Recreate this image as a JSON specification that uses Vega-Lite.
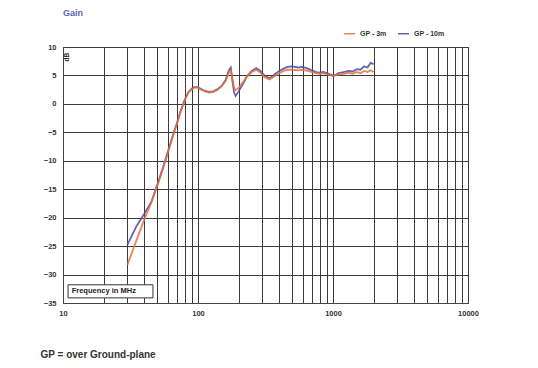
{
  "$schema": "https://vega.github.io/schema/vega-lite/v6.json",
  "width": 405,
  "height": 256,
  "autosize": "none",
  "padding": {"left": 63, "top": 47, "right": 70, "bottom": 65},
  "background": "white",
  "title": {"text": "Gain", "anchor": "start", "frame": "group", "fontSize": 9, "fontWeight": "bold", "color": "#5a64b0", "font": "Liberation Sans", "offset": 9},
  "config": {
    "view": {"stroke": "#444", "strokeWidth": 1},
    "axis": {"labelFont": "Liberation Sans", "labelFontSize": 7.5, "labelFontWeight": "bold", "labelColor": "#333", "gridColor": "#3a3a3a", "gridOpacity": 1, "gridWidth": 1, "domainColor": "#444", "tickColor": "#444", "labelOverlap": false}
  },
  "datasets": {
    "gain": [
      {"f": 30, "db": -24.8, "s": "GP - 10m"}, {"f": 35, "db": -21.5, "s": "GP - 10m"}, {"f": 40, "db": -19.3, "s": "GP - 10m"}, {"f": 45, "db": -17.3, "s": "GP - 10m"},
      {"f": 50, "db": -14.2, "s": "GP - 10m"}, {"f": 55, "db": -11.2, "s": "GP - 10m"}, {"f": 60, "db": -8.3, "s": "GP - 10m"}, {"f": 65, "db": -5.6, "s": "GP - 10m"},
      {"f": 70, "db": -3.3, "s": "GP - 10m"}, {"f": 75, "db": -1.0, "s": "GP - 10m"}, {"f": 80, "db": 0.8, "s": "GP - 10m"}, {"f": 85, "db": 2.1, "s": "GP - 10m"},
      {"f": 90, "db": 2.7, "s": "GP - 10m"}, {"f": 95, "db": 3.0, "s": "GP - 10m"}, {"f": 100, "db": 2.9, "s": "GP - 10m"}, {"f": 110, "db": 2.4, "s": "GP - 10m"},
      {"f": 120, "db": 2.1, "s": "GP - 10m"}, {"f": 130, "db": 2.2, "s": "GP - 10m"}, {"f": 140, "db": 2.6, "s": "GP - 10m"}, {"f": 150, "db": 3.2, "s": "GP - 10m"},
      {"f": 160, "db": 4.2, "s": "GP - 10m"}, {"f": 170, "db": 6.0, "s": "GP - 10m"}, {"f": 175, "db": 6.4, "s": "GP - 10m"}, {"f": 180, "db": 4.0, "s": "GP - 10m"},
      {"f": 185, "db": 2.0, "s": "GP - 10m"}, {"f": 190, "db": 1.4, "s": "GP - 10m"}, {"f": 200, "db": 2.2, "s": "GP - 10m"}, {"f": 215, "db": 3.5, "s": "GP - 10m"},
      {"f": 230, "db": 4.8, "s": "GP - 10m"}, {"f": 250, "db": 5.8, "s": "GP - 10m"}, {"f": 270, "db": 6.3, "s": "GP - 10m"}, {"f": 290, "db": 5.8, "s": "GP - 10m"},
      {"f": 310, "db": 5.0, "s": "GP - 10m"}, {"f": 340, "db": 4.5, "s": "GP - 10m"}, {"f": 370, "db": 5.2, "s": "GP - 10m"}, {"f": 400, "db": 5.8, "s": "GP - 10m"},
      {"f": 430, "db": 6.2, "s": "GP - 10m"}, {"f": 460, "db": 6.5, "s": "GP - 10m"}, {"f": 500, "db": 6.6, "s": "GP - 10m"}, {"f": 550, "db": 6.4, "s": "GP - 10m"},
      {"f": 600, "db": 6.5, "s": "GP - 10m"}, {"f": 650, "db": 6.2, "s": "GP - 10m"}, {"f": 700, "db": 5.9, "s": "GP - 10m"}, {"f": 750, "db": 5.6, "s": "GP - 10m"},
      {"f": 800, "db": 5.5, "s": "GP - 10m"}, {"f": 850, "db": 5.6, "s": "GP - 10m"}, {"f": 900, "db": 5.4, "s": "GP - 10m"}, {"f": 950, "db": 5.2, "s": "GP - 10m"},
      {"f": 1000, "db": 5.0, "s": "GP - 10m"}, {"f": 1050, "db": 5.1, "s": "GP - 10m"}, {"f": 1100, "db": 5.4, "s": "GP - 10m"}, {"f": 1200, "db": 5.6, "s": "GP - 10m"},
      {"f": 1300, "db": 5.8, "s": "GP - 10m"}, {"f": 1400, "db": 5.7, "s": "GP - 10m"}, {"f": 1500, "db": 6.1, "s": "GP - 10m"}, {"f": 1600, "db": 6.0, "s": "GP - 10m"},
      {"f": 1700, "db": 6.6, "s": "GP - 10m"}, {"f": 1800, "db": 6.4, "s": "GP - 10m"}, {"f": 1900, "db": 7.2, "s": "GP - 10m"}, {"f": 2000, "db": 7.0, "s": "GP - 10m"},
      {"f": 30, "db": -28.3, "s": "GP - 3m"}, {"f": 35, "db": -24.0, "s": "GP - 3m"}, {"f": 40, "db": -20.3, "s": "GP - 3m"}, {"f": 45, "db": -17.4, "s": "GP - 3m"},
      {"f": 50, "db": -14.4, "s": "GP - 3m"}, {"f": 55, "db": -11.4, "s": "GP - 3m"}, {"f": 60, "db": -8.5, "s": "GP - 3m"}, {"f": 65, "db": -5.8, "s": "GP - 3m"},
      {"f": 70, "db": -3.4, "s": "GP - 3m"}, {"f": 75, "db": -1.1, "s": "GP - 3m"}, {"f": 80, "db": 0.7, "s": "GP - 3m"}, {"f": 85, "db": 2.0, "s": "GP - 3m"},
      {"f": 90, "db": 2.6, "s": "GP - 3m"}, {"f": 95, "db": 2.9, "s": "GP - 3m"}, {"f": 100, "db": 2.8, "s": "GP - 3m"}, {"f": 110, "db": 2.3, "s": "GP - 3m"},
      {"f": 120, "db": 2.0, "s": "GP - 3m"}, {"f": 130, "db": 2.1, "s": "GP - 3m"}, {"f": 140, "db": 2.5, "s": "GP - 3m"}, {"f": 150, "db": 3.1, "s": "GP - 3m"},
      {"f": 160, "db": 4.0, "s": "GP - 3m"}, {"f": 170, "db": 5.6, "s": "GP - 3m"}, {"f": 175, "db": 5.9, "s": "GP - 3m"}, {"f": 180, "db": 4.4, "s": "GP - 3m"},
      {"f": 185, "db": 2.9, "s": "GP - 3m"}, {"f": 190, "db": 2.4, "s": "GP - 3m"}, {"f": 200, "db": 2.8, "s": "GP - 3m"}, {"f": 215, "db": 3.8, "s": "GP - 3m"},
      {"f": 230, "db": 4.8, "s": "GP - 3m"}, {"f": 250, "db": 5.6, "s": "GP - 3m"}, {"f": 270, "db": 6.0, "s": "GP - 3m"}, {"f": 290, "db": 5.5, "s": "GP - 3m"},
      {"f": 310, "db": 4.7, "s": "GP - 3m"}, {"f": 340, "db": 4.3, "s": "GP - 3m"}, {"f": 370, "db": 4.9, "s": "GP - 3m"}, {"f": 400, "db": 5.4, "s": "GP - 3m"},
      {"f": 430, "db": 5.8, "s": "GP - 3m"}, {"f": 460, "db": 6.0, "s": "GP - 3m"}, {"f": 500, "db": 6.0, "s": "GP - 3m"}, {"f": 550, "db": 5.9, "s": "GP - 3m"},
      {"f": 600, "db": 6.0, "s": "GP - 3m"}, {"f": 650, "db": 5.8, "s": "GP - 3m"}, {"f": 700, "db": 5.6, "s": "GP - 3m"}, {"f": 750, "db": 5.4, "s": "GP - 3m"},
      {"f": 800, "db": 5.3, "s": "GP - 3m"}, {"f": 850, "db": 5.4, "s": "GP - 3m"}, {"f": 900, "db": 5.2, "s": "GP - 3m"}, {"f": 950, "db": 5.1, "s": "GP - 3m"},
      {"f": 1000, "db": 4.9, "s": "GP - 3m"}, {"f": 1050, "db": 5.0, "s": "GP - 3m"}, {"f": 1100, "db": 5.2, "s": "GP - 3m"}, {"f": 1200, "db": 5.3, "s": "GP - 3m"},
      {"f": 1300, "db": 5.5, "s": "GP - 3m"}, {"f": 1400, "db": 5.3, "s": "GP - 3m"}, {"f": 1500, "db": 5.6, "s": "GP - 3m"}, {"f": 1600, "db": 5.4, "s": "GP - 3m"},
      {"f": 1700, "db": 5.8, "s": "GP - 3m"}, {"f": 1800, "db": 5.6, "s": "GP - 3m"}, {"f": 1900, "db": 5.9, "s": "GP - 3m"}, {"f": 2000, "db": 5.6, "s": "GP - 3m"}
    ],
    "box": [{"x1": 10.9, "x2": 46.4, "y1": -31.8, "y2": -34.1, "label": "Frequency in MHz", "xm": 11.6, "ym": -32.95}],
    "unit": [{"f": 10.7, "db": 8.2, "t": "dB"}]
  },
  "layer": [
    {
      "data": {"name": "box"},
      "mark": {"type": "rect", "fill": "white", "stroke": "#333", "strokeWidth": 1},
      "encoding": {
        "x": {"field": "x1", "type": "quantitative", "scale": {"type": "log", "domain": [10, 10000]}},
        "x2": {"field": "x2"},
        "y": {"field": "y1", "type": "quantitative", "scale": {"domain": [-35, 10]}},
        "y2": {"field": "y2"}
      }
    },
    {
      "data": {"name": "box"},
      "mark": {"type": "text", "align": "left", "baseline": "middle", "fontSize": 7.5, "fontWeight": "bold", "font": "Liberation Sans", "color": "#222"},
      "encoding": {
        "x": {"field": "xm", "type": "quantitative"},
        "y": {"field": "ym", "type": "quantitative"},
        "text": {"field": "label"}
      }
    },
    {
      "data": {"name": "unit"},
      "mark": {"type": "text", "angle": 270, "align": "center", "baseline": "middle", "fontSize": 6.5, "fontWeight": "bold", "font": "Liberation Sans", "color": "#222"},
      "encoding": {
        "x": {"field": "f", "type": "quantitative"},
        "y": {"field": "db", "type": "quantitative"},
        "text": {"field": "t"}
      }
    },
    {
      "data": {"name": "gain"},
      "mark": {"type": "line", "strokeWidth": 1.8, "opacity": 0.85},
      "encoding": {
        "x": {
          "field": "f", "type": "quantitative",
          "scale": {"type": "log", "domain": [10, 10000]},
          "axis": {
            "values": [10, 20, 30, 40, 50, 60, 70, 80, 90, 100, 200, 300, 400, 500, 600, 700, 800, 900, 1000, 2000, 3000, 4000, 5000, 6000, 7000, 8000, 9000, 10000],
            "tickCount": 40,
            "labelExpr": "indexof([10,100,1000,10000], datum.value) >= 0 ? datum.label : ''",
            "format": "d",
            "labelPadding": 6,
            "ticks": false,
            "labelFlush": false,
            "title": "GP = over Ground-plane",
            "titleAnchor": "start",
            "titleAlign": "left",
            "titleX": -23,
            "titleY": 51,
            "titleBaseline": "middle",
            "titleFont": "Liberation Sans",
            "titleFontSize": 10,
            "titleFontWeight": "bold",
            "titleColor": "#333"
          }
        },
        "y": {
          "field": "db", "type": "quantitative",
          "scale": {"domain": [-35, 10]},
          "axis": {"values": [-35, -30, -25, -20, -15, -10, -5, 0, 5, 10], "tickCount": 20, "title": null, "ticks": false, "labelPadding": 7, "labelFlush": false}
        },
        "color": {
          "field": "s", "type": "nominal",
          "scale": {"domain": ["GP - 3m", "GP - 10m"], "range": ["#e8703a", "#4a4aa4"]},
          "legend": {
            "title": null, "orient": "none", "direction": "horizontal", "legendX": 280, "legendY": -20,
            "symbolType": "stroke", "symbolStrokeWidth": 1.5, "symbolSize": 120,
            "labelFontSize": 7, "labelFont": "Liberation Sans", "labelFontWeight": "bold", "labelColor": "#333", "columnPadding": 8
          }
        }
      }
    }
  ]
}
